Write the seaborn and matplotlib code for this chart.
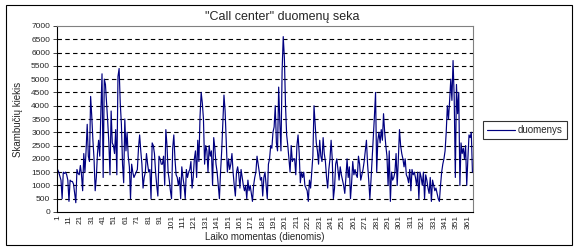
import numpy as np
import pandas as pd
import matplotlib
matplotlib.use("Agg")
import matplotlib.pyplot as plt
from matplotlib.patches import Rectangle
import seaborn as sns

title = '"Call center" duomenų seka'
xlabel = "Laiko momentas (dienomis)"
ylabel = "Skambučių kiekis"
series_name = "duomenys"

values = [
    1600, 1500, 1350, 1200, 500, 1500, 1450, 1500, 1400, 1200,
    400, 1200, 1150, 1150, 1050, 700, 350, 1600, 1450, 1400,
    1750, 1400, 800, 2200, 1500, 2300, 3300, 2100, 1900, 4350,
    3600, 2700, 2000, 800, 1300, 2200, 2700, 2100, 3800, 5200,
    1300, 5000, 4800, 4100, 3400, 2600, 1400, 3800, 2600, 2500,
    2200, 3100, 1400, 5100, 5400, 4100, 3300, 1800, 1100, 3500,
    2300, 3000, 2100, 1700, 500, 1800, 1500, 1300, 1400, 1500,
    1600, 2400, 2900, 2300, 1800, 900, 1300, 1500, 2200, 1800,
    1500, 1600, 500, 2600, 2500, 2200, 1500, 1000, 600, 2100,
    2000, 1800, 1800, 2100, 1000, 3100, 2500, 1500, 1200, 800,
    500, 2400, 2900, 2000, 1400, 1300, 1000, 1300, 500, 1700,
    1300, 1000, 500, 1600, 1300, 1500, 1600, 1900, 900, 1300,
    2000, 2300, 1300, 2700, 1900, 3600, 4500, 4100, 3500, 1800,
    2500, 2300, 1500, 2500, 2100, 2300, 1000, 2800, 2400, 1800,
    1500, 1000, 500, 1500, 2300, 3400, 4400, 3800, 2700, 1500,
    2000, 1600, 1800, 2200, 1500, 1000, 600, 1500, 1700, 1400,
    900, 1600, 1300, 1000, 800, 1000, 500, 1200, 800, 1000,
    700, 400, 1000, 1300, 1500, 2100, 1800, 1500, 1200, 1300,
    600, 1300, 1500, 1000, 500, 1800, 2000, 2500, 2400, 3000,
    3200, 4000, 2600, 2300, 4700, 3400, 2300, 5300, 6600, 5800,
    4000, 2900, 2500, 2000, 1500, 2500, 1900, 2000, 2000, 1400,
    2500, 2900, 2200, 1100, 1500, 1300, 1500, 1000, 900, 800,
    400, 1200, 900, 1500, 2100, 4000, 3300, 2600, 2300, 1800,
    2700, 2100, 1900, 2800, 2200, 1900, 1300, 900, 1600, 2000,
    2700, 2000, 500, 900, 1800, 2000, 1600, 1200, 1700, 1400,
    1200, 1000, 700, 1300, 2000, 1300, 1700, 500, 1100, 1900,
    1400, 1600, 1400, 1300, 2100, 1800, 1200, 1400, 1600, 1900,
    2300, 2700, 1800, 1200, 500, 1200, 2000, 2800, 3600, 4500,
    1500, 2700, 3000, 2600, 3100, 2700, 3700, 3000, 2500, 2100,
    1000, 2300, 400, 1500, 1200, 1300, 1500, 2200, 1000, 2000,
    3100, 2500, 2200, 2000, 1700, 2000, 1400, 1300, 1100, 1600,
    800, 1600, 1400, 1500, 1300, 1000, 1500, 500, 1500, 1300,
    1000, 1500, 500, 1400, 1200, 900, 700, 1300, 400, 1200,
    1000, 800, 900, 700, 500, 400, 1000, 1500, 1800, 2000,
    2300, 3000, 4000, 3500, 4200, 5000, 4200, 5700, 4300, 1300,
    4800, 3700, 4500, 1000, 2600, 2200, 2400, 2000, 2500, 1000,
    2000, 2900, 2800, 3000, 1500,
]
days = list(range(1, len(values) + 1))
xtick_labels = [str(d) for d in range(1, len(values) + 1, 10)]
ytick_values = list(range(0, 7001, 500))

sns.set_style("white")
plt.rcParams['font.family'] = ['Liberation Sans', 'DejaVu Sans']

df = pd.DataFrame({"day": days, "value": values})

fig = plt.figure(figsize=(5.77, 2.5), dpi=100)
ax = fig.add_axes([57/577, 1 - 212/250, (473 - 57)/577, (212 - 26)/250])

sns.lineplot(data=df, x="day", y="value", ax=ax, color="#000080",
             linewidth=0.85, label=series_name, legend=False)

ax.set_xlim(0.5, len(values) + 0.5)
ax.set_ylim(0, 7000)
ax.set_yticks(ytick_values)
ax.set_yticklabels([str(v) for v in ytick_values], fontsize=6)
ax.set_xticks([int(t) for t in xtick_labels])
ax.set_xticklabels(xtick_labels, rotation=90, fontsize=6)
ax.tick_params(axis='y', length=3, width=0.6, pad=2, direction='out', left=True)
ax.tick_params(axis='x', length=0, pad=2)

ax.yaxis.grid(True, linestyle=(0, (4, 3)), color='black', linewidth=0.8)
ax.get_ygridlines()[-1].set_visible(False)
ax.get_ygridlines()[0].set_visible(False)
ax.set_axisbelow(True)

for side in ['left', 'bottom']:
    ax.spines[side].set_color('black')
    ax.spines[side].set_linewidth(0.8)
for side in ['top', 'right']:
    ax.spines[side].set_color('#808080')
    ax.spines[side].set_linewidth(0.8)

ax.set_xlabel(xlabel, fontsize=7, labelpad=2)
ax.set_ylabel(ylabel, fontsize=7, labelpad=6)
fig.text(282/577, 1 - 17/250, title, ha='center', va='center', fontsize=9)

handles, labels = ax.get_legend_handles_labels()
leg = fig.legend(handles, labels, loc='center', bbox_to_anchor=(525/577, 1 - 130/250),
                 fontsize=7, frameon=True, fancybox=False, borderpad=0.4,
                 handlelength=2.9, handletextpad=0.3, borderaxespad=0)
leg.get_frame().set_edgecolor('black')
leg.get_frame().set_linewidth(0.8)

fig.add_artist(Rectangle((6/577, 5/250), (572 - 6)/577, (245 - 5)/250,
                         transform=fig.transFigure, fill=False,
                         edgecolor='black', linewidth=0.8))

fig.savefig("out.png", dpi=100, facecolor='white')
